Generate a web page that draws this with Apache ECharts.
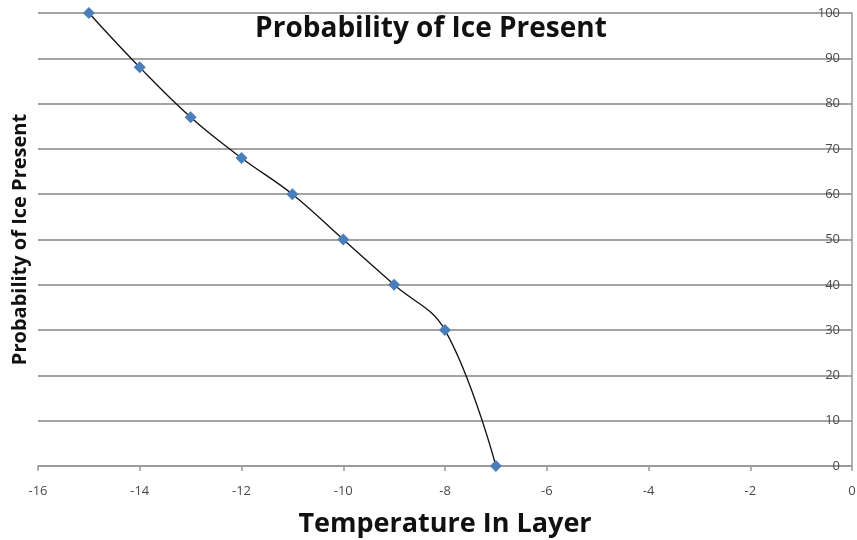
<!DOCTYPE html>
<html>
<head>
<meta charset="utf-8">
<script src="https://cdn.jsdelivr.net/npm/echarts@6/dist/echarts.min.js"></script>
<style>html,body{margin:0;padding:0;background:#fff;}#c{width:857px;height:540px;}</style>
</head>
<body>
<div id="c"></div>
<script>
const temperatures = [-15, -14, -13, -12, -11, -10, -9, -8, -7];
const probability = [100, 88, 77, 68, 60, 50, 40, 30, 0];
const xTicks = {min: -16, max: 0, interval: 2};
const yTicks = {min: 0, max: 100, interval: 10};

const chart = echarts.init(document.getElementById('c'));
const font = '"Open Sans", "Noto Sans", sans-serif';
chart.setOption({
  animation: false,
  title: {
    text: 'Probability of Ice Present',
    left: 426, top: 10, textAlign: 'center',
    textStyle: {fontFamily: font, fontWeight: 'bold', fontSize: 28, color: '#111'}
  },
  grid: {left: 38, right: 5, top: 13, bottom: 74, outerBoundsMode: 'none', containLabel: false},
  xAxis: {
    type: 'value', min: xTicks.min, max: xTicks.max, interval: xTicks.interval,
    name: 'Temperature In Layer', nameLocation: 'middle', nameGap: 45,
    nameTextStyle: {fontFamily: font, fontWeight: 'bold', fontSize: 27, color: '#111'},
    axisLine: {show: true, onZero: false, lineStyle: {color: '#999', width: 1.5}},
    axisTick: {show: true, length: 5, lineStyle: {color: '#999', width: 1.5}},
    axisLabel: {fontFamily: font, fontSize: 13, color: '#4a4a4a', margin: 19},
    splitLine: {show: false}
  },
  yAxis: [{
    type: 'value', position: 'right', min: yTicks.min, max: yTicks.max, interval: yTicks.interval,
    axisLine: {show: true, lineStyle: {color: '#999', width: 1.5}},
    axisTick: {show: false},
    axisLabel: {inside: true, fontFamily: font, fontSize: 13, color: '#4a4a4a', margin: 12},
    splitLine: {show: true, lineStyle: {color: '#a3a3a3', width: 1.8}}
  }, {
    type: 'value', position: 'left', min: yTicks.min, max: yTicks.max,
    name: 'Probability of Ice Present', nameLocation: 'middle', nameGap: 8, nameRotate: 90,
    nameTextStyle: {fontFamily: font, fontWeight: 'bold', fontSize: 20, color: '#111'},
    axisLine: {show: false}, axisTick: {show: false}, axisLabel: {show: false}, splitLine: {show: false}
  }],
  series: [{
    type: 'line',
    data: temperatures.map((t, i) => [t, probability[i]]),
    smooth: 0.4,
    symbol: 'diamond', symbolSize: 12,
    itemStyle: {color: '#4a7ebb'},
    lineStyle: {color: '#111', width: 1.3},
    z: 3
  }]
});
</script>
</body>
</html>
